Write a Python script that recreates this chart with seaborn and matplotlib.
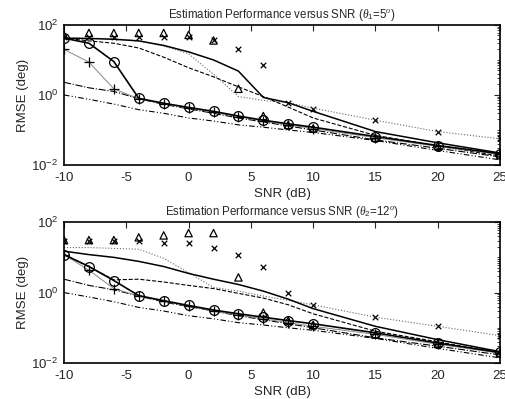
import numpy as np
import pandas as pd
import seaborn as sns
import matplotlib.pyplot as plt
from matplotlib.ticker import LogLocator, FixedLocator, NullFormatter

snr = [-10, -8, -6, -4, -2, 0, 2, 4, 6, 8, 10, 15, 20, 25]

# theta1 = 5 deg
circ1 = [42, 30, 9, 0.8, 0.58, 0.44, 0.34, 0.25, 0.19, 0.15, 0.12, 0.065, 0.036, 0.021]
plus1 = [20, 8.7, 1.5, 0.78, 0.56, 0.42, 0.32, 0.24, 0.18, 0.14, 0.11, 0.06, 0.034, 0.02]
tri1 = [51, 59, 59, 59, 59, 52, 36, 1.5, 0.25, 0.14, 0.11, 0.06, 0.035, 0.02]
cross1 = [45, 45, 45, 45, 45, 45, 36, 20, 7, 0.6, 0.41, 0.19, 0.09, 0.06]
solid1 = [42, 41, 39, 35, 26, 17, 10, 4.8, 0.85, 0.6, 0.34, 0.09, 0.043, 0.022]
dash1 = [42, 35, 30, 22, 12, 6, 3.3, 1.7, 0.9, 0.45, 0.22, 0.07, 0.035, 0.018]
dot1 = [42, 42, 40, 35, 25, 15, 3.9, 0.9, 0.7, 0.6, 0.42, 0.19, 0.09, 0.056]
dda1 = [2.3, 1.6, 1.26, 0.78, 0.54, 0.4, 0.3, 0.22, 0.17, 0.13, 0.1, 0.052, 0.03, 0.017]
ddb1 = [1.0, 0.75, 0.55, 0.38, 0.3, 0.22, 0.18, 0.14, 0.12, 0.1, 0.085, 0.05, 0.026, 0.014]

# theta2 = 12 deg
circ2 = [12, 5.5, 2.2, 0.82, 0.59, 0.43, 0.32, 0.25, 0.2, 0.16, 0.13, 0.072, 0.037, 0.02]
plus2 = [12, 4.3, 1.3, 0.8, 0.57, 0.41, 0.3, 0.23, 0.18, 0.14, 0.11, 0.065, 0.034, 0.019]
tri2 = [31, 31, 31, 37, 42, 49, 49, 2.7, 0.27, 0.16, 0.12, 0.065, 0.035, 0.019]
cross2 = [30, 30, 30, 29, 25, 25, 19, 12, 5.5, 1.0, 0.45, 0.2, 0.11, 0.06]
solid2 = [15, 12, 10, 7.7, 5.5, 3.5, 2.4, 1.7, 1.1, 0.65, 0.35, 0.11, 0.046, 0.021]
dash2 = [12, 5.5, 2.3, 2.4, 2.0, 1.6, 1.3, 0.95, 0.7, 0.45, 0.25, 0.08, 0.04, 0.019]
dot2 = [19, 19, 18, 17, 9.4, 3.7, 1.4, 1.1, 0.8, 0.6, 0.45, 0.2, 0.11, 0.06]
dda2 = [2.4, 1.6, 1.2, 0.8, 0.54, 0.4, 0.3, 0.22, 0.17, 0.13, 0.1, 0.052, 0.03, 0.017]
ddb2 = [1.0, 0.75, 0.55, 0.38, 0.3, 0.22, 0.18, 0.14, 0.12, 0.1, 0.085, 0.05, 0.026, 0.014]

titles = [r"Estimation Performance versus SNR ($\theta_1$=5$^o$)",
          r"Estimation Performance versus SNR ($\theta_2$=12$^o$)"]

sns.set_style("white")
plt.rcParams["font.family"] = ["Liberation Sans", "DejaVu Sans"]
plt.rcParams["mathtext.fontset"] = "custom"
plt.rcParams["mathtext.rm"] = "Liberation Sans"
plt.rcParams["mathtext.it"] = "Liberation Serif:italic"
plt.rcParams["axes.unicode_minus"] = False

fig = plt.figure(figsize=(5.06, 3.99), dpi=100)
ax1 = fig.add_axes([0.1265, 0.5865, 0.8617, 0.351])
ax2 = fig.add_axes([0.1265, 0.0902, 0.8617, 0.353])

panels = [
    (ax1, circ1, plus1, tri1, cross1, solid1, dash1, dot1, dda1, ddb1),
    (ax2, circ2, plus2, tri2, cross2, solid2, dash2, dot2, dda2, ddb2),
]

for i, (ax, circ, plus, tri, cross, solid, dash, dot, dda, ddb) in enumerate(panels):
    sns.lineplot(x=snr, y=ddb, ax=ax, color="k", lw=0.8, linestyle=(0, (5, 2, 1, 2, 1, 2)))
    sns.lineplot(x=snr, y=dda, ax=ax, color="k", lw=0.8, linestyle="-.")
    sns.lineplot(x=snr, y=dot, ax=ax, color="#666666", lw=0.8, linestyle=":")
    sns.lineplot(x=snr, y=dash, ax=ax, color="k", lw=0.8, linestyle="--")
    sns.lineplot(x=snr, y=solid, ax=ax, color="k", lw=1.1)
    sns.lineplot(x=snr, y=plus, ax=ax, color="#888888", lw=0.7, marker="+",
                 markersize=7, markeredgecolor="k", markeredgewidth=0.9)
    sns.lineplot(x=snr, y=circ, ax=ax, color="k", lw=1.2, marker="o",
                 markersize=7, markerfacecolor="none", markeredgecolor="k", markeredgewidth=0.9)
    sns.scatterplot(x=snr, y=tri, ax=ax, marker="^", s=28, facecolors="none",
                    edgecolor="k", linewidth=0.9)
    sns.scatterplot(x=snr, y=cross, ax=ax, marker="x", s=16, color="k", linewidth=0.9)

    ax.set_yscale("log")
    ax.set_xlim(-10, 25)
    ax.set_ylim(1e-2, 1e2)
    ax.set_xticks([-10, -5, 0, 5, 10, 15, 20, 25])
    ax.yaxis.set_major_locator(FixedLocator([1e-2, 1e0, 1e2]))
    ax.yaxis.set_minor_locator(LogLocator(base=10, subs=np.arange(1, 10), numticks=20))
    ax.yaxis.set_minor_formatter(NullFormatter())
    ax.tick_params(which="both", direction="in", top=True, right=True, labelsize=9.5)
    ax.tick_params(axis="x", pad=5)
    ax.tick_params(axis="y", pad=4)
    ax.tick_params(which="major", length=4, width=0.8)
    ax.tick_params(which="minor", length=2, width=0.6)
    for sp in ax.spines.values():
        sp.set_color("k")
        sp.set_linewidth(1.2)
    ax.set_xlabel("SNR (dB)", fontsize=9.5, labelpad=3)
    ax.set_ylabel("RMSE (deg)", fontsize=9.5, labelpad=2)
    ax.set_title(titles[i], fontsize=8.3, pad=5)

fig.savefig("out.png", dpi=100)
